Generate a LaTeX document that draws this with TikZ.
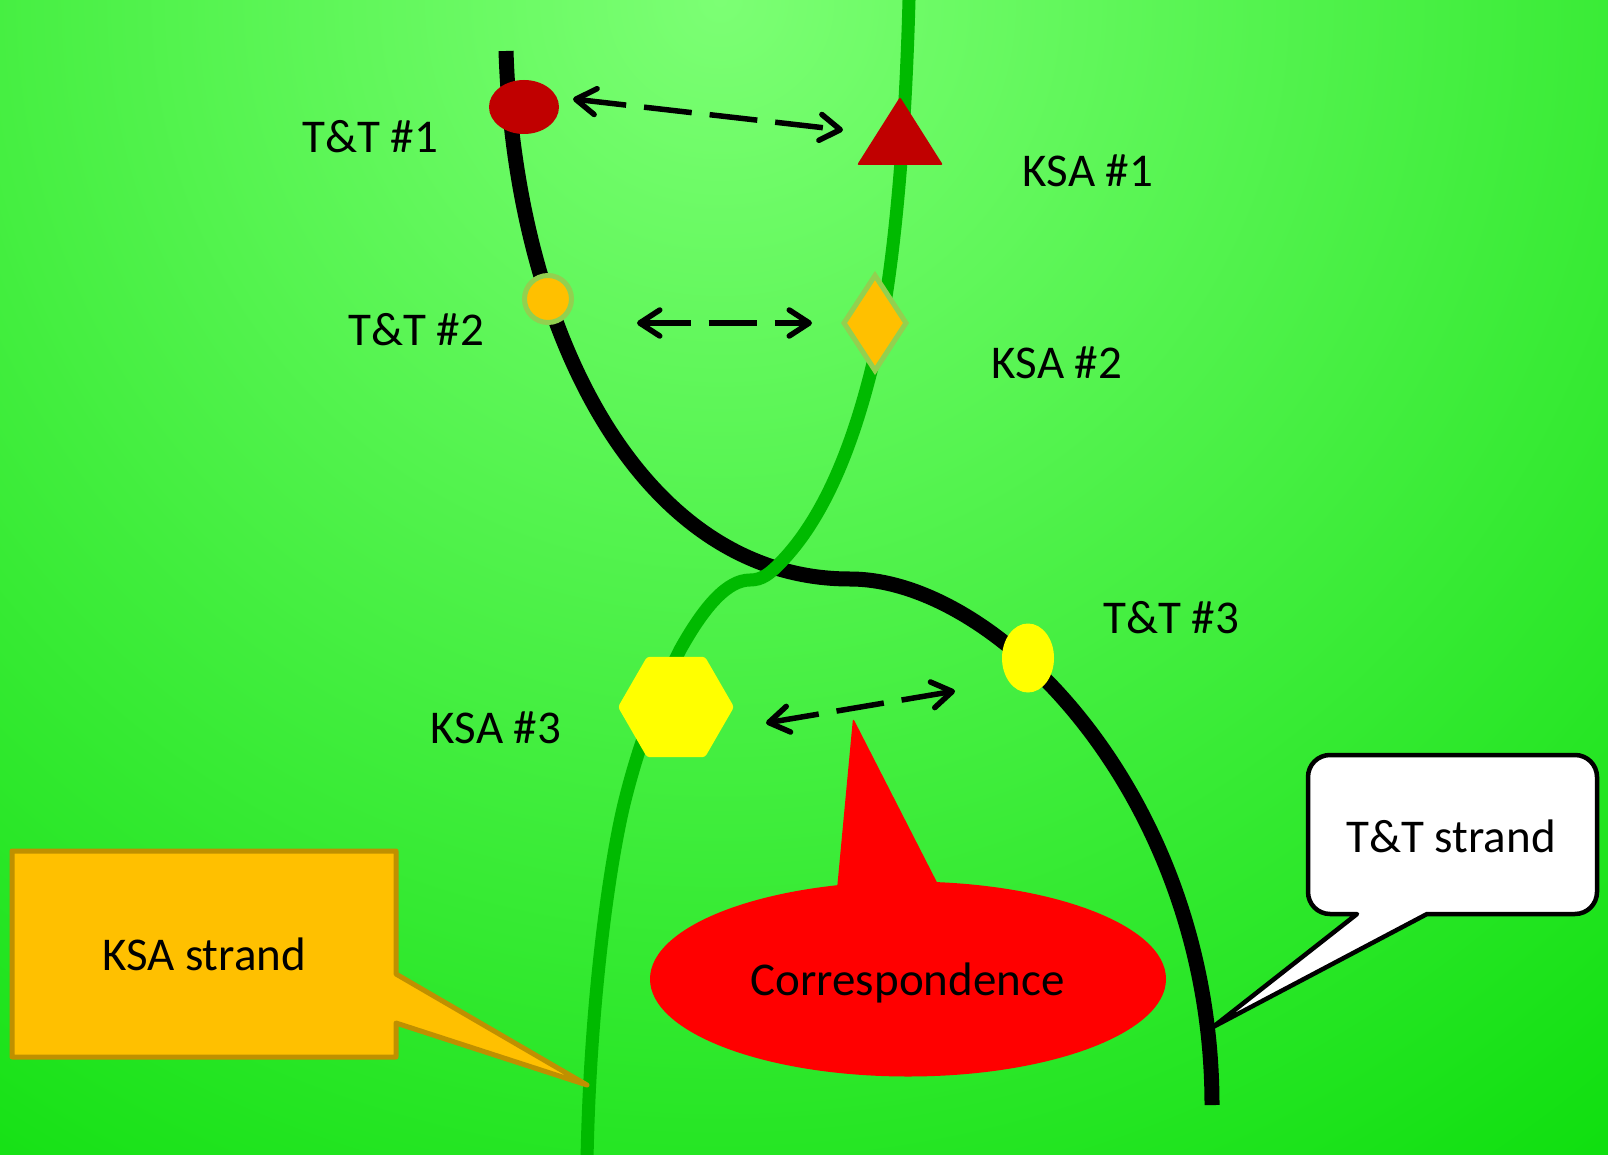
\documentclass[tikz,border=0pt]{standalone}
\usepackage{fontspec}
\setmainfont{Carlito}
\usetikzlibrary{arrows.meta,shapes.geometric}

\definecolor{bgtop}{RGB}{124,255,116}
\definecolor{bgbot}{RGB}{12,222,12}
\definecolor{ksagreen}{RGB}{0,186,0}
\definecolor{darkred}{RGB}{192,0,0}
\definecolor{amber}{RGB}{255,192,0}
\definecolor{amberedge}{RGB}{191,144,0}
\definecolor{leafedge}{RGB}{146,208,80}
\definecolor{brightyellow}{RGB}{255,255,0}

\tikzset{barb/.tip={Straight Barb[length=20pt,width=26pt,round]}}

\begin{document}
\begin{tikzpicture}[x=1pt,y=-1pt,
  label text/.style={font=\fontsize{47}{56}\selectfont, anchor=base, inner sep=0pt},
  tt strand/.style={line width=15pt, draw=black},
  ksa strand/.style={line width=13pt, draw=ksagreen},
  link/.style={line width=5.5pt, dash pattern=on 48pt off 18pt, arrows=barb-barb},
  marker/.style={inner sep=0pt, outer sep=0pt},
  amber marker/.style={marker, fill=amber, draw=leafedge, line width=5pt},
]

% background
\begin{scope}
  \clip (0,0) rectangle (1608,1155);
  \shade[inner color=bgtop, outer color=bgbot] (720,0) circle[radius=1500];
\end{scope}
\useasboundingbox (0,0) rectangle (1608,1155);

% the T&T strand
\draw[tt strand] (506,51) .. controls (515,330) and (640,579) .. (850,579)
  .. controls (1000,579) and (1212,800) .. (1212,1105);
% the KSA strand, crossing over it
\draw[ksa strand] (909,0) .. controls (905,150) and (893,280) .. (874,359)
  .. controls (857,430) and (830,510) .. (783,560)
  .. controls (770,574) and (762,580) .. (750,580)
  .. controls (728,580) and (705,605) .. (680,650)
  .. controls (660,690) and (640,740) .. (625,800)
  .. controls (610,860) and (590,1000) .. (587,1160);

% markers on the strands
\node[marker, ellipse, fill=darkred, minimum width=70pt, minimum height=54pt] (tt1) at (524,107) {};
\fill[darkred, rounded corners=2pt] (900,97) -- (943,165) -- (857,165) -- cycle;
\coordinate (ksa1) at (900,143);
\node[amber marker, circle, minimum size=47pt] (tt2) at (548,299) {};
\node[amber marker, diamond, minimum width=62pt, minimum height=95pt] (ksa2) at (875,323) {};
\node[marker, regular polygon, regular polygon sides=6, fill=brightyellow, minimum size=116pt, rounded corners=3pt] (ksa3) at (676,707) {};
\node[marker, ellipse, fill=brightyellow, minimum width=52pt, minimum height=69pt] (tt3) at (1028,658) {};

% correspondence links
\coordinate (l1a) at (573,99);  \coordinate (l1b) at (843,130);
\coordinate (l2a) at (637,323); \coordinate (l2b) at (812,323);
\coordinate (l3a) at (766,723); \coordinate (l3b) at (955,691);
\draw[link] (l1a) -- (l1b);
\draw[link] (l2a) -- (l2b);
\draw[link] (l3a) -- (l3b);

% labels
\node[label text] (lt1) at (370,153) {T\&T \#1};
\node[label text] (lk1) at (1088,187) {KSA \#1};
\node[label text] (lt2) at (416,345) {T\&T \#2};
\node[label text] (lk2) at (1057,378) {KSA \#2};
\node[label text] (lt3) at (1171,633) {T\&T \#3};
\node[label text] (lk3) at (496,743) {KSA \#3};

% callout: KSA strand
\draw[fill=amber, draw=amberedge, line width=5pt, line join=round] (12,851) -- (396,851) -- (396,974) -- (587,1085) -- (396,1023) -- (396,1057) -- (12,1057) -- cycle;
\node[label text] (ksacall) at (204,970) {KSA strand};

% callout: T&T strand
\draw[fill=white, draw=black, line width=4.5pt, line join=round, rounded corners=22pt] (1450,755) -- (1597,755) -- (1597,914) [sharp corners] -- (1427,914) -- (1213,1027) -- (1357,914) [rounded corners=22pt] -- (1308,914) -- (1308,755) -- cycle;
\node[label text] (ttcall) at (1451,852) {T\&T strand};

% callout: correspondence
\fill[red, rounded corners=3pt] (836,900) -- (853,718) -- (946,900) -- cycle;
\node[marker, ellipse, fill=red, minimum width=516pt, minimum height=195pt] (corr) at (908,979) {};
\node[label text] (corrtext) at (907.5,995) {Correspondence};

\end{tikzpicture}
\end{document}
